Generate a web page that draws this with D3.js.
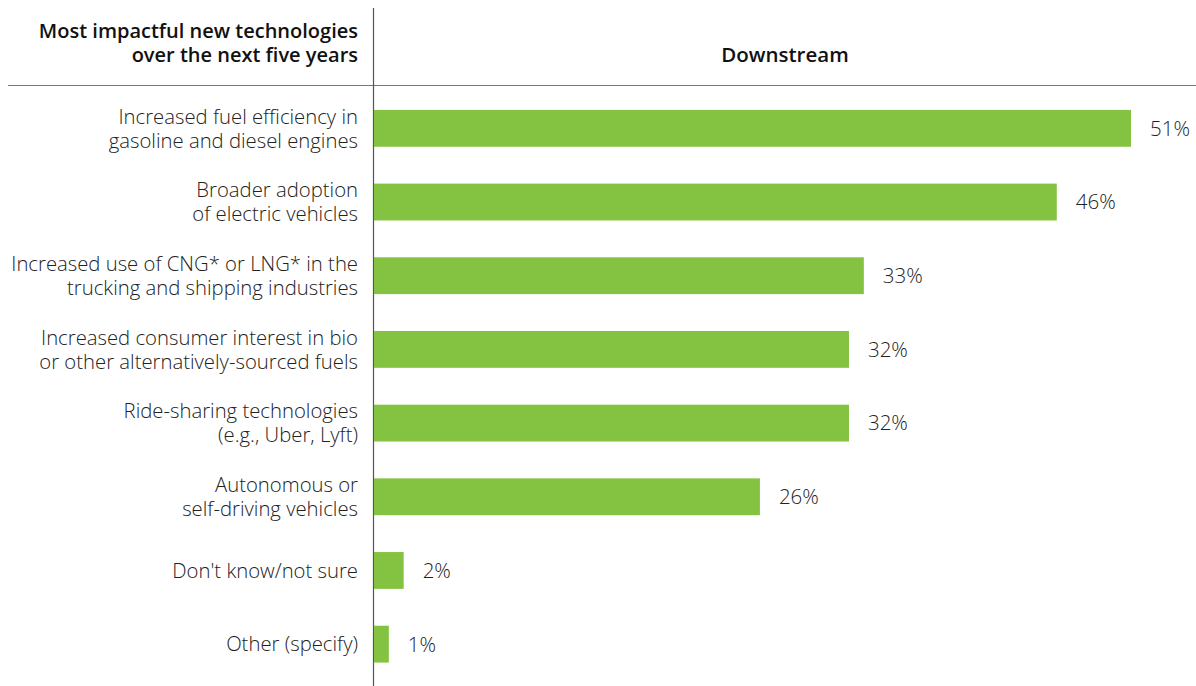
<!DOCTYPE html>
<html>
<head>
<meta charset="utf-8">
<script src="https://cdn.jsdelivr.net/npm/d3@7"></script>
<style>
  html, body { margin: 0; padding: 0; background: #fff; }
  svg { display: block; font-family: "Open Sans", sans-serif; }
</style>
</head>
<body>
<svg id="chart" width="1196" height="686"></svg>
<script>
// Survey responses: most impactful new technologies (downstream)
const categories = [
  ["Increased fuel efficiency in", "gasoline and diesel engines"],
  ["Broader adoption", "of electric vehicles"],
  ["Increased use of CNG* or LNG* in the", "trucking and shipping industries"],
  ["Increased consumer interest in bio", "or other alternatively-sourced fuels"],
  ["Ride-sharing technologies", "(e.g., Uber, Lyft)"],
  ["Autonomous or", "self-driving vehicles"],
  ["Don't know/not sure"],
  ["Other (specify)"]
];
const values = [51, 46, 33, 32, 32, 26, 2, 1];
const headerLeft = ["Most impactful new technologies", "over the next five years"];
const headerRight = "Downstream";

const svg = d3.select("#chart");
const axisX = 373.5;
const x0 = 374;

const x = d3.scaleLinear().domain([0, 51]).range([x0, 1131]);
const y = d3.scaleBand()
  .domain(d3.range(values.length))
  .range([91.5, 681])
  .paddingInner(0.5)
  .paddingOuter(0.25);

// Header rule and divider
svg.append("line")
  .attr("x1", 8).attr("x2", 1196)
  .attr("y1", 85.5).attr("y2", 85.5)
  .attr("stroke", "#777").attr("stroke-width", 1.2);
svg.append("line")
  .attr("x1", axisX).attr("x2", axisX)
  .attr("y1", 8).attr("y2", 686)
  .attr("stroke", "#555").attr("stroke-width", 1.2);

// Header texts
svg.append("text")
  .attr("text-anchor", "end")
  .attr("font-weight", 600)
  .attr("font-size", 20)
  .attr("fill", "#111")
  .selectAll("tspan").data(headerLeft).join("tspan")
  .attr("x", 358)
  .attr("y", (d, i) => 38 + i * 24)
  .text(d => d);

svg.append("text")
  .attr("x", 785).attr("y", 62)
  .attr("text-anchor", "middle")
  .attr("font-weight", 600)
  .attr("font-size", 20.5)
  .attr("fill", "#111")
  .text(headerRight);

// Bars
svg.append("g").selectAll("rect").data(values).join("rect")
  .attr("x", x0)
  .attr("y", (d, i) => y(i))
  .attr("width", d => x(d) - x0)
  .attr("height", y.bandwidth())
  .attr("fill", "#84c341");

// Value labels
svg.append("g").selectAll("text").data(values).join("text")
  .attr("x", d => x(d) + 19)
  .attr("y", (d, i) => y(i) + y.bandwidth() / 2)
  .attr("dy", "0.36em")
  .attr("font-size", 20.5)
  .attr("font-weight", 300)
  .attr("fill", "#222")
  .text(d => d + "%");

// Category labels
const cat = svg.append("g").selectAll("text").data(categories).join("text")
  .attr("text-anchor", "end")
  .attr("font-size", 20.3)
  .attr("font-weight", 300)
  .attr("fill", "#222");
cat.each(function(lines, i) {
  const cy = y(i) + y.bandwidth() / 2;
  const lh = 24;
  const start = cy - (lines.length - 1) * lh / 2;
  d3.select(this).selectAll("tspan").data(lines).join("tspan")
    .attr("x", 358)
    .attr("y", (d, j) => start + j * lh)
    .attr("dy", "0.36em")
    .text(d => d);
});
</script>
</body>
</html>
